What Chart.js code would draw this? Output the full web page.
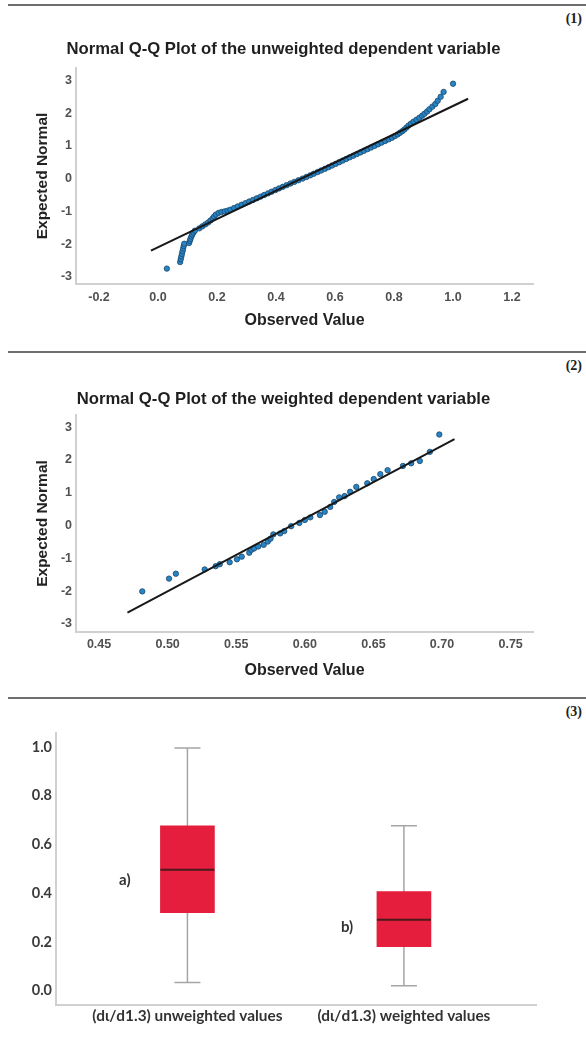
<!DOCTYPE html>
<html><head><meta charset="utf-8">
<script src="https://cdn.jsdelivr.net/npm/chart.js@4.4.0/dist/chart.umd.min.js"></script>
<style>
html,body{margin:0;padding:0;background:#fff;}
body{width:586px;height:1042px;position:relative;overflow:hidden;}
.sep{position:absolute;left:8px;width:578px;height:2px;background:#6e6e6e;}
.num{position:absolute;right:4px;font:bold 14px "Liberation Serif","Times New Roman",serif;color:#222;line-height:16px;}
canvas{position:absolute;left:0;}
</style></head><body>
<div class="sep" style="top:4px"></div>
<div class="num" style="top:11px">(1)</div>
<canvas id="qq1" width="567" height="310" style="top:30px;width:567px;height:310px"></canvas>
<div class="sep" style="top:351px"></div>
<div class="num" style="top:358px">(2)</div>
<canvas id="qq2" width="567" height="310" style="top:378px;width:567px;height:310px"></canvas>
<div class="sep" style="top:697px"></div>
<div class="num" style="top:704px">(3)</div>
<canvas id="box" width="586" height="317" style="top:725px;width:586px;height:317px"></canvas>
<script>
// ---------- Panel 1: Q-Q plot, unweighted ----------
const qq1Title = 'Normal Q-Q Plot of the unweighted dependent variable';
const qq1Observed = [0.030,0.075,0.077,0.079,0.081,0.083,0.085,0.087,0.089,0.105,0.108,0.110,0.113,0.116,0.120,0.125,
  0.140,0.150,0.160,0.170,0.178,0.185,0.190,0.196,0.205,0.215,0.226,0.236,0.245,0.258,0.270,0.283,0.296,0.309,0.322,
  0.335,0.348,0.360,0.373,0.385,0.398,0.410,0.423,0.436,0.449,0.462,0.476,0.490,0.503,0.516,0.528,0.541,0.553,0.566,
  0.578,0.590,0.602,0.614,0.626,0.638,0.650,0.662,0.674,0.686,0.698,0.710,0.722,0.734,0.746,0.758,0.770,0.782,0.793,
  0.803,0.812,0.820,0.828,0.835,0.842,0.849,0.857,0.866,0.876,0.886,0.895,0.903,0.912,0.920,0.930,0.940,0.948,0.958,
  0.968,1.000];
const qq1Expected = [-2.75,-2.55,-2.46,-2.38,-2.30,-2.22,-2.14,-2.06,-1.99,-1.97,-1.90,-1.84,-1.77,-1.71,-1.65,-1.59,
  -1.52,-1.46,-1.40,-1.34,-1.28,-1.22,-1.16,-1.10,-1.05,-1.02,-1.00,-0.98,-0.95,-0.90,-0.85,-0.80,-0.75,-0.70,-0.65,
  -0.60,-0.55,-0.50,-0.45,-0.40,-0.35,-0.30,-0.25,-0.20,-0.15,-0.10,-0.05,0.00,0.05,0.10,0.15,0.20,0.25,0.30,
  0.35,0.40,0.45,0.50,0.55,0.60,0.65,0.70,0.75,0.80,0.85,0.90,0.95,1.00,1.05,1.10,1.15,1.20,1.25,
  1.30,1.35,1.40,1.45,1.50,1.56,1.62,1.68,1.74,1.80,1.86,1.92,1.98,2.05,2.12,2.20,2.28,2.38,2.50,
  2.65,2.90];
const qq1LineX = [-0.024, 1.051];
const qq1LineY = [-2.20, 2.44];
const qq1XTicks = [-0.2, 0.0, 0.2, 0.4, 0.6, 0.8, 1.0, 1.2];
const qq1YTicks = [-3, -2, -1, 0, 1, 2, 3];

// ---------- Panel 2: Q-Q plot, weighted ----------
const qq2Title = 'Normal Q-Q Plot of the weighted dependent variable';
const qq2Observed = [0.4815,0.501,0.506,0.527,0.535,0.538,0.5452,0.5505,0.554,0.5595,0.561,0.563,0.566,0.570,0.573,
  0.575,0.577,0.582,0.585,0.590,0.596,0.600,0.604,0.611,0.6145,0.6185,0.6214,0.625,0.629,0.633,0.6375,0.6455,0.6502,
  0.655,0.6603,0.6715,0.6775,0.6838,0.6911,0.698];
const qq2Expected = [-2.01,-1.62,-1.47,-1.34,-1.24,-1.18,-1.12,-1.03,-0.95,-0.83,-0.74,-0.70,-0.64,-0.59,-0.49,
  -0.40,-0.27,-0.24,-0.17,-0.02,0.08,0.17,0.25,0.32,0.42,0.57,0.72,0.86,0.90,1.03,1.18,1.29,1.42,
  1.57,1.69,1.82,1.90,1.97,2.25,2.78];
const qq2LineX = [0.4707, 0.7091];
const qq2LineY = [-2.66, 2.64];
const qq2XTicks = [0.45, 0.50, 0.55, 0.60, 0.65, 0.70, 0.75];
const qq2YTicks = [-3, -2, -1, 0, 1, 2, 3];

// ---------- Panel 3: box plots ----------
const boxCategories = ['(d\u03b9/d1.3) unweighted values', '(d\u03b9/d1.3) weighted values'];
const boxLetters = ['a)', 'b)'];
const boxMin = [0.033, 0.020];
const boxQ1 = [0.320, 0.180];
const boxMedian = [0.496, 0.291];
const boxQ3 = [0.676, 0.406];
const boxMax = [0.995, 0.676];
const boxYTicks = [0.0, 0.2, 0.4, 0.6, 0.8, 1.0];

const QQF = '"Liberation Sans", Arial, sans-serif';
const BXF = 'Lato, "Open Sans", sans-serif';

function qqChart(id, cfg) {
  return new Chart(document.getElementById(id), {
    type: 'scatter',
    data: { datasets: [
      { data: cfg.lineX.map((x, i) => ({x: x, y: cfg.lineY[i]})), showLine: true,
        borderColor: '#181818', borderWidth: 2, pointRadius: 0, order: 0 },
      { data: cfg.obs.map((x, i) => ({x: x, y: cfg.exp[i]})),
        backgroundColor: '#2784c6', borderColor: '#1a4668', borderWidth: 0.8, pointRadius: 2.7, order: 1 }
    ]},
    options: {
      responsive: false, animation: false, events: [],
      layout: { padding: 0 },
      plugins: {
        legend: { display: false }, tooltip: { enabled: false },
        title: { display: true, text: cfg.title, color: '#1f1f1f',
          font: { family: QQF, size: 16.7, weight: 'bold', lineHeight: 1.2 }, padding: cfg.titlePad }
      },
      scales: {
        x: { type: 'linear', position: 'bottom', min: cfg.xMin, max: cfg.xMax,
          afterBuildTicks: s => { s.ticks = cfg.xTicks.map(v => ({value: v})); },
          afterFit: s => { s.height = 56; },
          grid: { display: false, drawTicks: false },
          border: { display: true, color: '#d0d0d0', width: 2 },
          ticks: { callback: v => v.toFixed(cfg.xDec), color: '#505050', font: { family: QQF, size: 12.5, weight: 'bold' },
            padding: cfg.xTickPad, maxRotation: 0, autoSkip: false },
          title: { display: true, text: 'Observed Value', color: '#222',
            font: { family: QQF, size: 16, weight: 'bold', lineHeight: 1.2 }, padding: { top: 0, bottom: cfg.xTitlePad } } },
        y: { type: 'linear', position: 'left', min: cfg.yMin, max: cfg.yMax,
          afterBuildTicks: s => { s.ticks = cfg.yTicks.map(v => ({value: v})); },
          afterFit: s => { s.width = 76; },
          grid: { display: false, drawTicks: false },
          border: { display: true, color: '#d0d0d0', width: 2 },
          ticks: { callback: v => String(v), color: '#505050', font: { family: QQF, size: 12.5, weight: 'bold' }, padding: 4, autoSkip: false },
          title: { display: true, text: 'Expected Normal', color: '#222',
            font: { family: QQF, size: 15.5, weight: 'bold', lineHeight: 1.2 }, padding: { top: 33.7, bottom: 0 } } },
        yRight: { type: 'linear', position: 'right', display: true,
          afterFit: s => { s.width = 34; },
          grid: { display: false }, border: { display: false }, ticks: { display: false } }
      }
    }
  });
}

qqChart('qq1', { title: qq1Title, obs: qq1Observed, exp: qq1Expected, lineX: qq1LineX, lineY: qq1LineY,
  xMin: -0.278, xMax: 1.271, xTicks: qq1XTicks, xDec: 1, yMin: -3.22, yMax: 3.38, yTicks: qq1YTicks,
  titlePad: { top: 9.5, bottom: 8.46 }, xTickPad: 6, xTitlePad: 9.4 });

qqChart('qq2', { title: qq2Title, obs: qq2Observed, exp: qq2Expected, lineX: qq2LineX, lineY: qq2LineY,
  xMin: 0.4332, xMax: 0.7663, xTicks: qq2XTicks, xDec: 2, yMin: -3.25, yMax: 3.375, yTicks: qq2YTicks,
  titlePad: { top: 11, bottom: 5.96 }, xTickPad: 5, xTitlePad: 7.4 });

const boxWhiskerPlugin = {
  id: 'boxWhisker',
  beforeDatasetsDraw(chart) {
    const {ctx, scales: {x, y}} = chart;
    ctx.save();
    ctx.strokeStyle = '#a5a5a5'; ctx.lineWidth = 1.5;
    boxCategories.forEach((c, i) => {
      const px = x.getPixelForValue(i + 1);
      const yTop = y.getPixelForValue(boxMax[i]), yBot = y.getPixelForValue(boxMin[i]);
      ctx.beginPath();
      ctx.moveTo(px, yTop); ctx.lineTo(px, yBot);
      ctx.moveTo(px - 13, yTop); ctx.lineTo(px + 13, yTop);
      ctx.moveTo(px - 13, yBot); ctx.lineTo(px + 13, yBot);
      ctx.stroke();
    });
    ctx.restore();
  },
  afterDatasetsDraw(chart, args, opts) {
    const {ctx, scales: {x, y}} = chart;
    ctx.save();
    ctx.strokeStyle = '#4a1a1c'; ctx.lineWidth = 2;
    boxCategories.forEach((c, i) => {
      const px = x.getPixelForValue(i + 1);
      const ym = y.getPixelForValue(boxMedian[i]);
      ctx.beginPath(); ctx.moveTo(px - 27, ym); ctx.lineTo(px + 27, ym); ctx.stroke();
    });
    ctx.fillStyle = '#333'; ctx.font = 'bold 15px ' + BXF;
    ctx.textAlign = 'center'; ctx.textBaseline = 'middle';
    opts.letterPos.forEach((p, i) => {
      ctx.fillText(boxLetters[i], x.getPixelForValue(p.x), y.getPixelForValue(p.y));
    });
    ctx.restore();
  }
};

new Chart(document.getElementById('box'), {
  type: 'bar',
  data: { datasets: [{
    data: boxCategories.map((c, i) => ({x: i + 1, y: [boxQ1[i], boxQ3[i]]})),
    backgroundColor: '#e41e3c', borderWidth: 0, barThickness: 54
  }]},
  options: {
    responsive: false, animation: false, events: [],
    layout: { padding: { top: 8, left: 0, right: 50, bottom: 0 } },
    plugins: { legend: { display: false }, tooltip: { enabled: false },
      boxWhisker: { letterPos: [{x: 0.711, y: 0.455}, {x: 1.737, y: 0.262}] } },
    scales: {
      x: { type: 'linear', min: 0.393, max: 2.61, offset: false,
        afterBuildTicks: s => { s.ticks = boxCategories.map((c, i) => ({value: i + 1})); },
        afterFit: s => { s.height = 37; s.paddingLeft = 0; s.paddingRight = 0; },
        grid: { display: false, drawTicks: false, offset: false },
        border: { display: true, color: '#d0d0d0', width: 2 },
        ticks: { callback: v => boxCategories[Math.round(v) - 1], color: '#333',
          font: { family: BXF, size: 15.4, weight: 'bold' }, padding: 2, maxRotation: 0, autoSkip: false } },
      y: { type: 'linear', min: -0.059, max: 1.057, beginAtZero: false,
        afterBuildTicks: s => { s.ticks = boxYTicks.map(v => ({value: v})); },
        afterFit: s => { s.width = 56; s.paddingTop = 0; s.paddingBottom = 0; },
        grid: { display: false, drawTicks: false },
        border: { display: true, color: '#d0d0d0', width: 2 },
        ticks: { callback: v => v.toFixed(1), color: '#3a3a3a',
          font: { family: BXF, size: 14.5, weight: 'bold' }, padding: 4, autoSkip: false } }
    }
  },
  plugins: [boxWhiskerPlugin]
});
</script>
</body></html>
